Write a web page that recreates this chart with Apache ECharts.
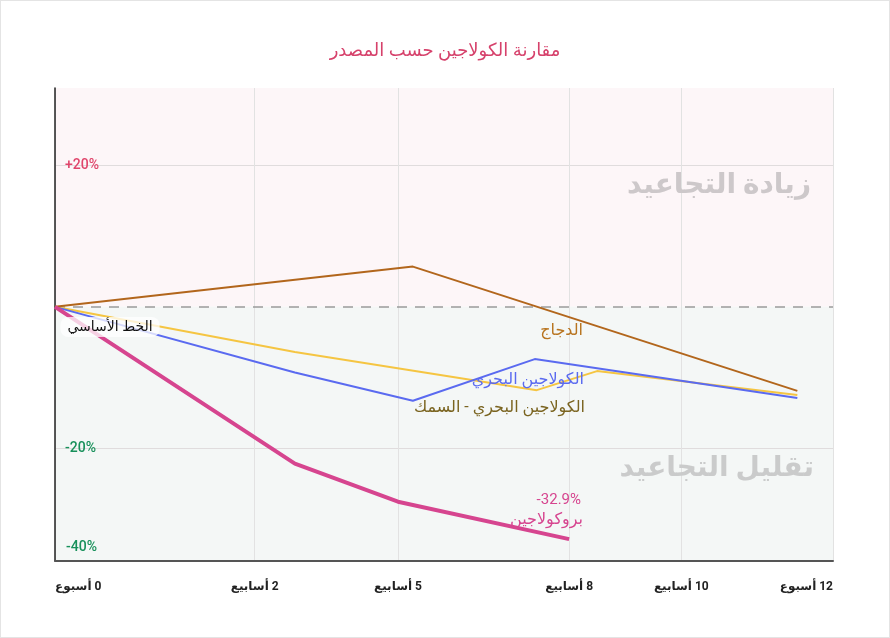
<!DOCTYPE html>
<html>
<head>
<meta charset="utf-8">
<script src="https://cdn.jsdelivr.net/npm/echarts@6/dist/echarts.min.js"></script>
<style>
  html, body { margin: 0; padding: 0; background: #fff; }
  #chart { width: 888px; height: 636px; border: 1px solid #e4e4e4; }
</style>
</head>
<body>
<div id="chart"></div>
<script>
// محور الزمن (أسابيع) - مواضع العلامات كما في الرسم
var weekTicks = [0, 3.08, 5.29, 7.93, 9.66, 12];
var weekLabels = ['0 أسبوع', '2 أسابيع', '5 أسابيع', '8 أسابيع', '10 أسابيع', '12 أسبوع'];

var yTicks = [20, -20];
var yLabels = ['+20%', '-20%'];

// السلاسل
var chickenX = [0, 5.52, 11.45];
var chickenY = [0, 5.7, -11.9];

var marineX = [0, 3.7, 5.52, 7.4, 11.45];
var marineY = [0, -9.3, -13.3, -7.4, -12.9];

var fishX = [0, 3.7, 7.43, 8.36, 11.45];
var fishY = [0, -6.4, -11.8, -9.1, -12.5];

var procollagenX = [0, 3.7, 5.29, 7.93];
var procollagenY = [0, -22.2, -27.6, -32.9];

function pairs(xs, ys) {
    return xs.map(function (x, i) { return [x, ys[i]]; });
}

var FONT = 'Roboto, "DejaVu Sans", sans-serif';
var RLM = '\u200F';

var chart = echarts.init(document.getElementById('chart'));

var option = {
    animation: false,
    title: {
        text: 'مقارنة الكولاجين حسب المصدر',
        left: 'center',
        top: 36,
        textStyle: {
            fontFamily: FONT,
            fontWeight: 'normal',
            fontSize: 18,
            color: '#d6416b'
        }
    },
    grid: {
        left: 54,
        right: 56,
        top: 87,
        bottom: 76
    },
    xAxis: {
        type: 'value',
        min: 0,
        max: 12,
        axisLine: { show: true, onZero: false, lineStyle: { color: '#555', width: 2 } },
        axisTick: { show: false, customValues: weekTicks },
        splitLine: { show: true, lineStyle: { color: '#e2e2e2', width: 1 } },
        axisLabel: {
            customValues: weekTicks,
            margin: 20,
            fontFamily: FONT,
            fontSize: 12,
            fontWeight: 'bold',
            color: '#222',
            alignMinLabel: 'left',
            alignMaxLabel: 'right',
            formatter: function (v) {
                var i = weekTicks.indexOf(v);
                return i < 0 ? '' : RLM + weekLabels[i];
            }
        }
    },
    yAxis: {
        type: 'value',
        min: -36,
        max: 31,
        axisLine: { show: true, onZero: false, lineStyle: { color: '#222', width: 1.5 } },
        axisTick: { show: false, customValues: yTicks },
        splitLine: { show: true, lineStyle: { color: '#e0dcdd', width: 1 } },
        axisLabel: {
            customValues: yTicks,
            inside: true,
            margin: 10,
            fontFamily: FONT,
            fontSize: 14,
            fontWeight: 500,
            color: function (v) { return v > 0 ? '#e0456b' : '#17905a'; },
            formatter: function (v) {
                var i = yTicks.indexOf(v);
                return i < 0 ? '' : yLabels[i];
            }
        }
    },
    graphic: [
        { type: 'text', x: 810, y: 185, z: 1, silent: true,
          style: { text: 'زيادة التجاعيد', font: 'bold 28px ' + FONT, fill: '#cdc8ca',
                   align: 'right', verticalAlign: 'middle' } },
        { type: 'text', x: 813, y: 468, z: 1, silent: true,
          style: { text: 'تقليل التجاعيد', font: 'bold 28px ' + FONT, fill: '#cacbcb',
                   align: 'right', verticalAlign: 'middle' } },
        { type: 'text', left: 65, top: 539, z: 100, silent: true,
          style: { text: '-40%', font: '500 14px ' + FONT, fill: '#17905a' } },
        { type: 'text', x: 109, y: 326, z: 100, silent: true,
          style: { text: 'الخط الأساسي', font: '14px ' + FONT, fill: '#111',
                   align: 'center', verticalAlign: 'middle',
                   backgroundColor: 'rgba(255,255,255,0.75)', borderRadius: 8, padding: [3, 7] } },
        { type: 'text', x: 582, y: 330, z: 100, silent: true,
          style: { text: 'الدجاج', font: '16px ' + FONT, fill: '#b8741f', align: 'right', verticalAlign: 'middle' } },
        { type: 'text', x: 583, y: 379, z: 100, silent: true,
          style: { text: 'الكولاجين البحري', font: '16px ' + FONT, fill: '#5a6af0', align: 'right', verticalAlign: 'middle' } },
        { type: 'text', x: 584, y: 407, z: 100, silent: true,
          style: { text: 'الكولاجين البحري - السمك', font: '16px ' + FONT, fill: '#7a6420', align: 'right', verticalAlign: 'middle' } },
        { type: 'text', x: 580, y: 499, z: 100, silent: true,
          style: { text: '-32.9%', font: '15px ' + FONT, fill: '#d6458f', align: 'right', verticalAlign: 'middle' } },
        { type: 'text', x: 582, y: 519, z: 100, silent: true,
          style: { text: 'بروكولاجين', font: '16px ' + FONT, fill: '#d6458f', align: 'right', verticalAlign: 'middle' } }
    ],
    series: [
        {
            name: 'zones',
            type: 'line',
            data: [],
            silent: true,
            z: -1,
            markArea: {
                silent: true,
                z: -2,
                itemStyle: { opacity: 1 },
                data: [
                    [{ yAxis: 0, itemStyle: { color: '#fdf6f8' } }, { yAxis: 31 }],
                    [{ yAxis: -36, itemStyle: { color: '#f4f7f6' } }, { yAxis: 0 }]
                ]
            },
            markLine: {
                silent: true,
                z: 2,
                symbol: 'none',
                label: { show: false },
                lineStyle: { color: '#9a9a9a', width: 1.5, type: [10, 8] },
                data: [{ yAxis: 0 }]
            }
        },
        {
            name: 'الكولاجين البحري - السمك',
            type: 'line',
            data: pairs(fishX, fishY),
            showSymbol: false,
            lineStyle: { color: '#f5c542', width: 2 },
            z: 3
        },
        {
            name: 'الكولاجين البحري',
            type: 'line',
            data: pairs(marineX, marineY),
            showSymbol: false,
            lineStyle: { color: '#5a6af0', width: 2 },
            z: 4
        },
        {
            name: 'الدجاج',
            type: 'line',
            data: pairs(chickenX, chickenY),
            showSymbol: false,
            lineStyle: { color: '#b2661c', width: 2 },
            z: 5
        },
        {
            name: 'بروكولاجين',
            type: 'line',
            data: pairs(procollagenX, procollagenY),
            showSymbol: false,
            lineStyle: { color: '#d6458f', width: 4 },
            z: 6
        }
    ]
};

chart.setOption(option);
window.addEventListener('resize', chart.resize);
</script>
</body>
</html>
